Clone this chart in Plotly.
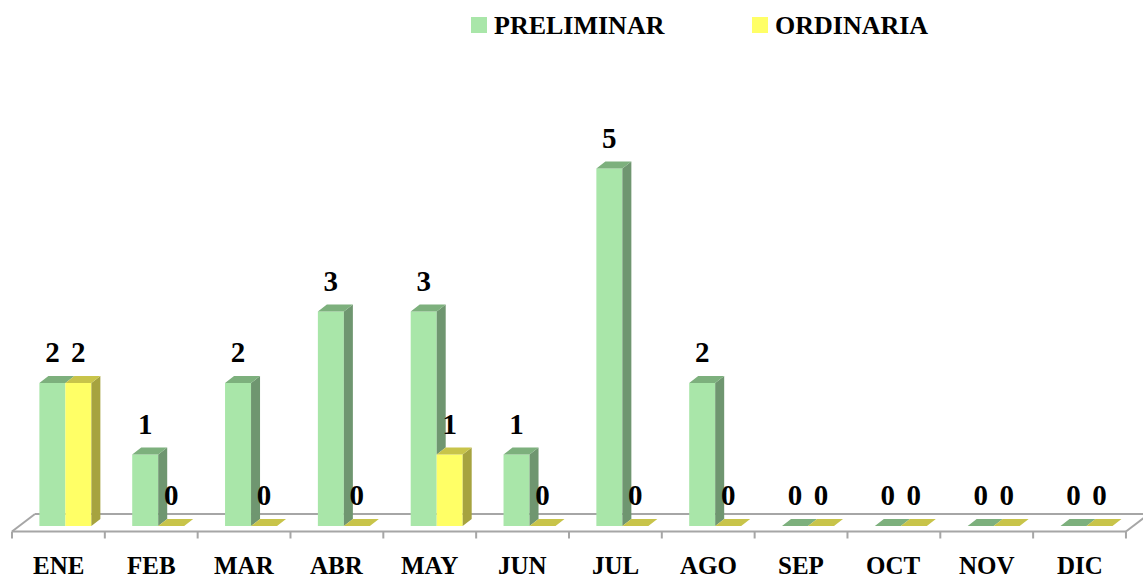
import plotly.graph_objects as go

# ---- data ----
months = ["ENE", "FEB", "MAR", "ABR", "MAY", "JUN", "JUL", "AGO", "SEP", "OCT", "NOV", "DIC"]
preliminar = [2, 1, 2, 3, 3, 1, 5, 2, 0, 0, 0, 0]
ordinaria = [2, 0, 0, 0, 1, 0, 0, 0, 0, 0, 0, 0]
series_names = ["PRELIMINAR", "ORDINARIA"]

# ---- styling / geometry ----
W, H = 1143, 580
PX_X = 92.83          # px per category
PX_Y = 71.5           # px per unit value
X_LEFT_PX = 12        # pixel of category -0.5 boundary
Y_BASE_PX = 526       # pixel of value 0
x0 = -0.5 - X_LEFT_PX / PX_X
x1 = x0 + W / PX_X
y1 = Y_BASE_PX / PX_Y
y0 = y1 - H / PX_Y

DX = 9 / PX_X         # bar depth offset (x)
DY = 7 / PX_Y         # bar depth offset (y)
BW = 0.28             # bar width
OFF_G = -0.205
OFF_Y = OFF_G + BW

GREEN = dict(front="#A9E6A9", side="#6F9670", top="#7DB07D")
YELLOW = dict(front="#FFFF66", side="#A6A33F", top="#C8C44A")
FONT = "Liberation Serif"
FLOOR = "#A6A6A6"

fig = go.Figure()

# front faces (real bars)
for name, vals, off, col in [(series_names[0], preliminar, OFF_G, GREEN),
                             (series_names[1], ordinaria, OFF_Y, YELLOW)]:
    fig.add_trace(go.Bar(x=list(range(len(months))), y=vals, base=0, width=BW, offset=off,
                         marker=dict(color=col["front"], line=dict(width=0)),
                         name=name, hoverinfo="skip", showlegend=False))


def poly_trace(polys, color):
    xs, ys = [], []
    for p in polys:
        for (a, b) in p:
            xs.append(a)
            ys.append(b)
        xs.append(p[0][0]); ys.append(p[0][1])
        xs.append(None); ys.append(None)
    return go.Scatter(x=xs, y=ys, mode="lines", fill="toself", fillcolor=color,
                      line=dict(width=0, color=color), hoverinfo="skip", showlegend=False)


g_side, g_top, y_side, y_top = [], [], [], []
for i, (gv, yv) in enumerate(zip(preliminar, ordinaria)):
    gl = i + OFF_G
    gr = gl + BW
    yl = i + OFF_Y
    yr = yl + BW
    # green side, only the part not hidden by the yellow bar
    if gv > yv:
        g_side.append([(gr, yv), (gr + DX, yv + DY), (gr + DX, gv + DY), (gr, gv)])
    g_top.append([(gl, gv), (gr, gv), (gr + DX, gv + DY), (gl + DX, gv + DY)])
    if yv > 0:
        y_side.append([(yr, 0), (yr + DX, DY), (yr + DX, yv + DY), (yr, yv)])
    y_top.append([(yl, yv), (yr, yv), (yr + DX, yv + DY), (yl + DX, yv + DY)])

fig.add_trace(poly_trace(g_side, GREEN["side"]))
fig.add_trace(poly_trace(g_top, GREEN["top"]))
fig.add_trace(poly_trace(y_side, YELLOW["side"]))
fig.add_trace(poly_trace(y_top, YELLOW["top"]))

# value labels
LBL = 28 / PX_Y
for vals, off in [(preliminar, OFF_G), (ordinaria, OFF_Y)]:
    fig.add_trace(go.Scatter(
        x=[i + off + BW / 2 for i in range(len(months))],
        y=[v + LBL for v in vals],
        mode="text", text=[str(v) for v in vals], textposition="middle center",
        textfont=dict(family=FONT, size=29, color="black", weight="bold"),
        hoverinfo="skip", showlegend=False))

# floor (lines)
yf = -5.5 / PX_Y
yb = 12 / PX_Y
fdx = 23 / PX_X
n = len(months)
shapes = [
    dict(type="line", x0=-0.5, y0=yf, x1=n - 0.5, y1=yf),
    dict(type="line", x0=-0.5 + fdx, y0=yb, x1=n - 0.5 + fdx, y1=yb),
    dict(type="line", x0=-0.5, y0=yf, x1=-0.5 + fdx, y1=yb),
    dict(type="line", x0=n - 0.5, y0=yf, x1=n - 0.5 + fdx, y1=yb),
]
for k in range(n + 1):
    shapes.append(dict(type="line", x0=k - 0.5, x1=k - 0.5, y0=yf, y1=yf - 7 / PX_Y))
for s in shapes:
    s.update(xref="x", yref="y", layer="below", line=dict(color=FLOOR, width=2))

# legend (manual)
leg = [(471, GREEN["front"], series_names[0]), (752, YELLOW["front"], series_names[1])]
annotations = []
for px, col, name in leg:
    shapes.append(dict(type="rect", xref="paper", yref="paper",
                       x0=px / W, x1=(px + 16) / W, y0=1 - 33 / H, y1=1 - 17 / H,
                       fillcolor=col, line=dict(width=0)))
    annotations.append(dict(xref="paper", yref="paper", x=(px + 21) / W, y=1 - 25 / H,
                            text=name, showarrow=False, xanchor="left", yanchor="middle",
                            font=dict(family=FONT, size=26, color="black", weight="bold")))

# month labels
for i, m in enumerate(months):
    annotations.append(dict(xref="x", yref="paper", x=i, y=1 - 565 / H, text=m,
                            showarrow=False, xanchor="center", yanchor="middle",
                            font=dict(family=FONT, size=25, color="black", weight="bold")))

fig.update_layout(
    width=W, height=H, margin=dict(l=0, r=0, t=0, b=0),
    paper_bgcolor="white", plot_bgcolor="white",
    barmode="overlay", showlegend=False,
    xaxis=dict(range=[x0, x1], visible=False, fixedrange=True),
    yaxis=dict(range=[y0, y1], visible=False, fixedrange=True),
    shapes=shapes, annotations=annotations,
)

fig.write_html("out.html", config={"displayModeBar": False},
               post_script="document.body.style.margin='0';document.body.style.overflow='hidden';")
